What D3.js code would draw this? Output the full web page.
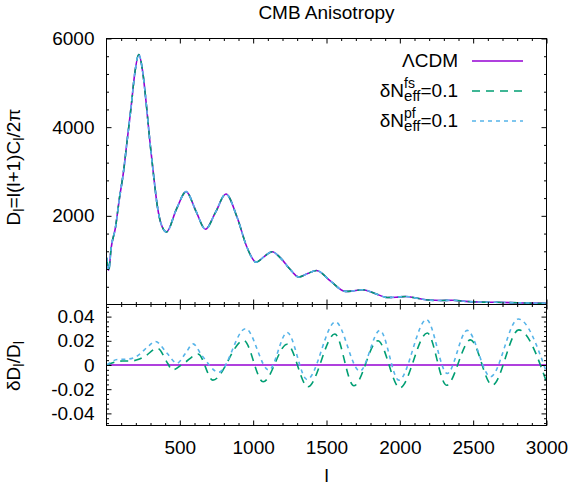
<!DOCTYPE html>
<html>
<head>
<meta charset="utf-8">
<script src="https://cdn.jsdelivr.net/npm/d3@7"></script>
<style>
body {margin: 0; background: #fff;}
text {font-family: "Liberation Sans", Arial, Helvetica, sans-serif; fill: #000;}
</style>
</head>
<body>
<div id="cmbDiv"></div>
<script>
//----------------------------------------------------------------------------------------------------
// values
var ell    = [2, 15, 32, 61, 89, 114, 141, 168, 193, 220, 248, 273, 295, 320, 348, 373, 409,
              477, 543, 609, 675, 743, 814, 891, 959, 1020, 1075, 1130, 1186, 1250, 1311, 1372,
              1432, 1530, 1630, 1690, 1743, 1830, 1914, 1975, 2039, 2120, 2200, 2280, 2357,
              2450, 2550, 2650, 2750, 2850, 3000];
var dlLCDM = [1050, 770, 1280, 1735, 2416, 2947, 3705, 4462, 5220, 5640, 5220, 4462, 3705, 2947,
              2189, 1810, 1636, 2152, 2545, 2114, 1697, 2076, 2492, 1962, 1280, 955, 1080, 1190,
              1050, 800, 620, 700, 766, 520, 295, 310, 333, 250, 159, 165, 182, 140, 100, 90, 95,
              70, 55, 50, 42, 35, 25];

var ellFs   = [2, 107, 165, 220, 266, 345, 420, 447, 527, 625, 725, 936, 1068, 1232, 1373, 1557,
               1686, 1850, 2000, 2187, 2318, 2482, 2630, 2811, 3000];
var deltaFs = [0, 0.0033, 0.0033, 0.0047, 0.0075, 0.0139, 0.0008, -0.0042, 0.0014, 0.009, -0.0125,
               0.0203, -0.0139, 0.0172, -0.018, 0.0256, -0.0172, 0.020, -0.0189, 0.0264, -0.0167,
               0.0208, -0.0167, 0.029, -0.014];

var ellPf   = [2, 73, 152, 220, 280, 334, 413, 480, 539, 590, 648, 765, 948, 1107, 1232, 1368,
               1561, 1727, 1864, 1993, 2182, 2323, 2459, 2618, 2807, 3000];
var deltaPf = [0, 0.0045, 0.005, 0.0083, 0.015, 0.0194, 0.0097, 0.0015, 0.0097, 0.0175, 0.0083,
               -0.006, 0.030, -0.0042, 0.0269, -0.012, 0.0356, -0.005, 0.0286, -0.0125, 0.0375,
               -0.007, 0.0286, -0.0097, 0.038, -0.006];

var ellLCDM   = [2, 3000];
var deltaLCDM = [0, 0];

var xTicks       = [500, 1000, 1500, 2000, 2500, 3000];
var dlTicks      = [2000, 4000, 6000];
var deltaTicks   = [-0.04, -0.02, 0, 0.02, 0.04];
var deltaLabels  = ["-0.04", "-0.02", "0", "0.02", "0.04"];

var seriesColors = ["#9400d3", "#009e73", "#56b4e9"];
var seriesDashes = [null, "8,6", "4,4"];
var legendSups   = [null, "fs", "pf"];

//----------------------------------------------------------------------------------------------------
var width = 581, height = 488;
var left = 106.5, right = 546.5;
var topY = 38.5, midY = 304.5, bottomY = 425.5;
var fontSize = 19;

var svg = d3.select("#cmbDiv").append("svg")
    .attr("width", width)
    .attr("height", height);

var xScale = d3.scaleLinear().domain([0, 3000]).range([left, right]);
var yTop   = d3.scaleLinear().domain([0, 6000]).range([midY, topY]);
var yBot   = d3.scaleLinear().domain([-0.05, 0.05]).range([bottomY, midY]);

//----------------------------------------------------------------------------------------------------
function pairs(xs, ys)
{
   var out = [];
   for(var i=0; i < xs.length; i++)
      out.push({l: xs[i], v: ys[i]});
   return out;

} // pairs
//----------------------------------------------------------------------------------------------------
function styleAxis(g)
{
   g.select(".domain").remove();
   g.selectAll("line").attr("stroke", "#000");
   g.selectAll("text")
      .attr("font-size", fontSize)
      .attr("font-family", "Liberation Sans, Arial, sans-serif");

} // styleAxis
//----------------------------------------------------------------------------------------------------
function drawFrameTicks(yScale, y0, y1, yMajor, yMinor, yFormat, xLabels)
{
   var minorX = d3.range(100, 3000, 100).filter(function(d){ return d % 500 != 0; });

     // x ticks, bottom and top edges, all pointing inward
   svg.append("g").attr("transform", "translate(0," + y1 + ")")
      .call(d3.axisBottom(xScale).tickValues(xTicks).tickSize(-5).tickPadding(15)
            .tickFormat(xLabels ? d3.format("d") : ""))
      .call(styleAxis);
   svg.append("g").attr("transform", "translate(0," + y1 + ")")
      .call(d3.axisBottom(xScale).tickValues(minorX).tickSize(-2.5).tickFormat(""))
      .call(styleAxis);
   svg.append("g").attr("transform", "translate(0," + y0 + ")")
      .call(d3.axisTop(xScale).tickValues(xTicks).tickSize(-5).tickFormat(""))
      .call(styleAxis);
   svg.append("g").attr("transform", "translate(0," + y0 + ")")
      .call(d3.axisTop(xScale).tickValues(minorX).tickSize(-2.5).tickFormat(""))
      .call(styleAxis);

     // y ticks, left labelled, right mirrored
   svg.append("g").attr("transform", "translate(" + left + ",0)")
      .call(d3.axisLeft(yScale).tickValues(yMajor).tickSize(-5).tickPadding(12).tickFormat(yFormat))
      .call(styleAxis);
   svg.append("g").attr("transform", "translate(" + left + ",0)")
      .call(d3.axisLeft(yScale).tickValues(yMinor).tickSize(-2.5).tickFormat(""))
      .call(styleAxis);
   svg.append("g").attr("transform", "translate(" + right + ",0)")
      .call(d3.axisRight(yScale).tickValues(yMajor).tickSize(-5).tickFormat(""))
      .call(styleAxis);
   svg.append("g").attr("transform", "translate(" + right + ",0)")
      .call(d3.axisRight(yScale).tickValues(yMinor).tickSize(-2.5).tickFormat(""))
      .call(styleAxis);

   svg.append("rect")
      .attr("x", left).attr("y", y0)
      .attr("width", right - left).attr("height", y1 - y0)
      .attr("fill", "none").attr("stroke", "#000").attr("stroke-width", 1);

} // drawFrameTicks
//----------------------------------------------------------------------------------------------------
function drawCurves(clipId, yScale, y0, y1, seriesList)
{
   svg.append("clipPath").attr("id", clipId)
      .append("rect")
      .attr("x", left).attr("y", y0)
      .attr("width", right - left).attr("height", y1 - y0);

   var line = d3.line()
      .x(function(d){ return xScale(d.l); })
      .y(function(d){ return yScale(d.v); })
      .curve(d3.curveMonotoneX);

   var g = svg.append("g").attr("clip-path", "url(#" + clipId + ")");

   for(var i=0; i < seriesList.length; i++){
      g.append("path")
         .datum(seriesList[i])
         .attr("d", line)
         .attr("fill", "none")
         .attr("stroke", seriesColors[i])
         .attr("stroke-width", 1.6)
         .attr("stroke-dasharray", seriesDashes[i]);
      }

} // drawCurves
//----------------------------------------------------------------------------------------------------
function drawLegend()
{
   var rowY = [61, 91, 121];
   var textEnd = 458;

   for(var i=0; i < 3; i++){
      svg.append("line")
         .attr("x1", 472).attr("x2", 523)
         .attr("y1", rowY[i]).attr("y2", rowY[i])
         .attr("stroke", seriesColors[i])
         .attr("stroke-width", 1.6)
         .attr("stroke-dasharray", seriesDashes[i]);

      var base = rowY[i] + 6;
      if(i == 0){
         svg.append("text")
            .attr("x", textEnd).attr("y", base)
            .attr("text-anchor", "end")
            .attr("font-size", fontSize)
            .text("ΛCDM");
         continue;
         }

      var eq = svg.append("text")
         .attr("x", textEnd).attr("y", base)
         .attr("text-anchor", "end")
         .attr("font-size", fontSize)
         .text("=0.1");
      var eqWidth = eq.node().getComputedTextLength();

      var sub = svg.append("text")
         .attr("x", textEnd - eqWidth).attr("y", base + 4)
         .attr("text-anchor", "end")
         .attr("font-size", 15)
         .text("eff");
      var subStart = textEnd - eqWidth - sub.node().getComputedTextLength();

      svg.append("text")
         .attr("x", subStart).attr("y", base - 9)
         .attr("font-size", 14)
         .text(legendSups[i]);

      svg.append("text")
         .attr("x", subStart).attr("y", base)
         .attr("text-anchor", "end")
         .attr("font-size", fontSize)
         .text("δN");
      }

} // drawLegend
//----------------------------------------------------------------------------------------------------
function drawLabels()
{
   svg.append("text")
      .attr("x", (left + right) / 2).attr("y", 19)
      .attr("text-anchor", "middle")
      .attr("font-size", fontSize)
      .text("CMB Anisotropy");

   svg.append("text")
      .attr("x", (left + right) / 2).attr("y", 482)
      .attr("text-anchor", "middle")
      .attr("font-size", fontSize)
      .text("l");

   var t1 = svg.append("text")
      .attr("transform", "translate(20,167) rotate(-90)")
      .attr("text-anchor", "middle")
      .attr("font-size", fontSize);
   t1.append("tspan").text("D");
   t1.append("tspan").attr("dy", 4).attr("font-size", 15).text("l");
   t1.append("tspan").attr("dy", -4).text("=l(l+1)C");
   t1.append("tspan").attr("dy", 4).attr("font-size", 15).text("l");
   t1.append("tspan").attr("dy", -4).text("/2π");

   var t2 = svg.append("text")
      .attr("transform", "translate(20,366) rotate(-90)")
      .attr("text-anchor", "middle")
      .attr("font-size", fontSize);
   t2.append("tspan").text("δD");
   t2.append("tspan").attr("dy", 4).attr("font-size", 15).text("l");
   t2.append("tspan").attr("dy", -4).text("/D");
   t2.append("tspan").attr("dy", 4).attr("font-size", 15).text("l");

} // drawLabels
//----------------------------------------------------------------------------------------------------
var topSeries = [pairs(ell, dlLCDM), pairs(ell, dlLCDM), pairs(ell, dlLCDM)];
var botSeries = [pairs(ellLCDM, deltaLCDM), pairs(ellFs, deltaFs), pairs(ellPf, deltaPf)];

drawCurves("clipTop", yTop, topY, midY, topSeries);
drawCurves("clipBot", yBot, midY, bottomY, botSeries);

drawFrameTicks(yTop, topY, midY, dlTicks,
               d3.range(400, 6000, 400).filter(function(d){ return d % 2000 != 0; }),
               d3.format("d"), false);
drawFrameTicks(yBot, midY, bottomY, deltaTicks,
               d3.range(-48, 49, 4).map(function(d){ return d / 1000; })
                  .filter(function(d){ return Math.round(d * 1000) % 20 != 0; }),
               function(d, i){ return deltaLabels[i]; }, true);

drawLegend();
drawLabels();

</script>
</body>
</html>
